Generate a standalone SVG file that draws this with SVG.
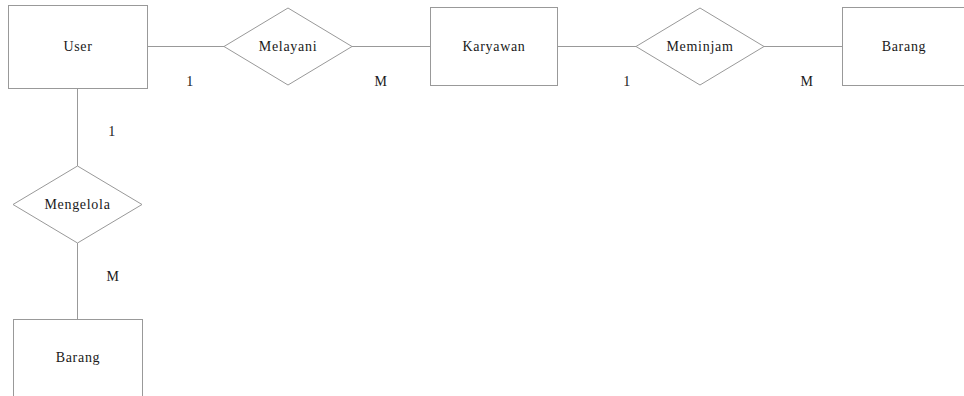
<svg xmlns="http://www.w3.org/2000/svg" width="964" height="396" viewBox="0 0 964 396">
<style>
.shape{fill:#fff;stroke:#999;stroke-width:1}
.conn line{stroke:#999;stroke-width:1}
text{font-family:"Liberation Serif","Times New Roman",serif;font-size:14px;fill:#1a1a1a;letter-spacing:0.7px}
.lbl{text-anchor:middle}
</style>
<rect width="964" height="396" fill="#fff"/>
<g id="connectors" class="conn">
<line x1="147" y1="46.5" x2="224" y2="46.5"/>
<line x1="352" y1="46.5" x2="430" y2="46.5"/>
<line x1="558" y1="46.5" x2="636" y2="46.5"/>
<line x1="764" y1="46.5" x2="842" y2="46.5"/>
<line x1="77.5" y1="88" x2="77.5" y2="166"/>
<line x1="77.5" y1="243" x2="77.5" y2="319"/>
</g>
<g id="user"><rect class="shape" x="8.5" y="5.5" width="139" height="83"/><text class="lbl" x="78" y="51">User</text></g>
<g id="melayani"><polygon class="shape" points="224,46.5 288,8 352,46.5 288,85"/><text class="lbl" x="288" y="51">Melayani</text></g>
<g id="karyawan"><rect class="shape" x="430.5" y="7.5" width="127" height="78"/><text class="lbl" x="494" y="51">Karyawan</text></g>
<g id="meminjam"><polygon class="shape" points="636,46.5 700,8 764,46.5 700,85"/><text class="lbl" x="700" y="51">Meminjam</text></g>
<g id="barang1"><rect class="shape" x="842.5" y="7.5" width="124" height="78"/><text class="lbl" x="904" y="51">Barang</text></g>
<g id="mengelola"><polygon class="shape" points="13,204.5 77.5,166 142,204.5 77.5,243"/><text class="lbl" x="77.5" y="209">Mengelola</text></g>
<g id="barang2"><rect class="shape" x="13.5" y="319.5" width="129" height="80"/><text class="lbl" x="78" y="362">Barang</text></g>
<g id="labels">
<text class="lbl" x="190" y="86">1</text>
<text class="lbl" x="381" y="86">M</text>
<text class="lbl" x="627" y="86">1</text>
<text class="lbl" x="807" y="86">M</text>
<text class="lbl" x="112" y="136">1</text>
<text class="lbl" x="113" y="281">M</text>
</g>
</svg>
